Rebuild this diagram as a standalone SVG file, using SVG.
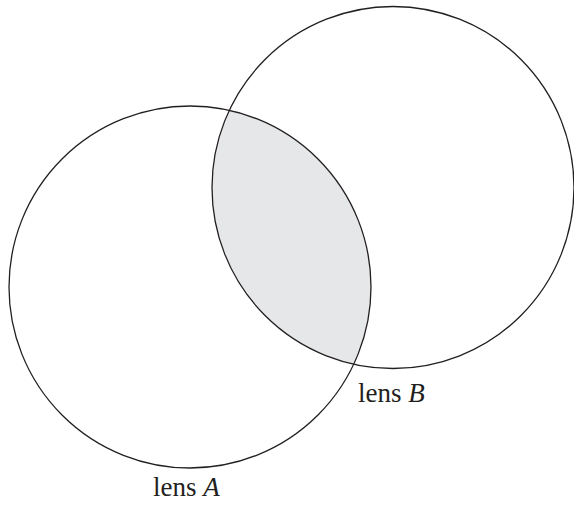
<svg xmlns="http://www.w3.org/2000/svg" width="574" height="507" viewBox="0 0 574 507">
<style>
.c{fill:none;stroke:#231f20;stroke-width:1.3}
.t{font-family:"Liberation Serif","Times New Roman",serif;font-size:27px;fill:#231f20}
</style>
<rect width="574" height="507" fill="#fff"/>
<g id="lens-overlap">
<path d="M229.3 110.2 A181 181 0 0 1 353.7 364.2 A181 181 0 0 1 229.3 110.2 Z" fill="#e6e7e8" stroke="none"/>
</g>
<g id="lensA">
<circle class="c" cx="190" cy="287" r="181"/>
<text class="t" x="153" y="496">lens <tspan font-style="italic">A</tspan></text>
</g>
<g id="lensB">
<circle class="c" cx="393" cy="187.5" r="181"/>
<text class="t" x="358" y="402">lens <tspan font-style="italic">B</tspan></text>
</g>
<g id="connectors"/>
</svg>
